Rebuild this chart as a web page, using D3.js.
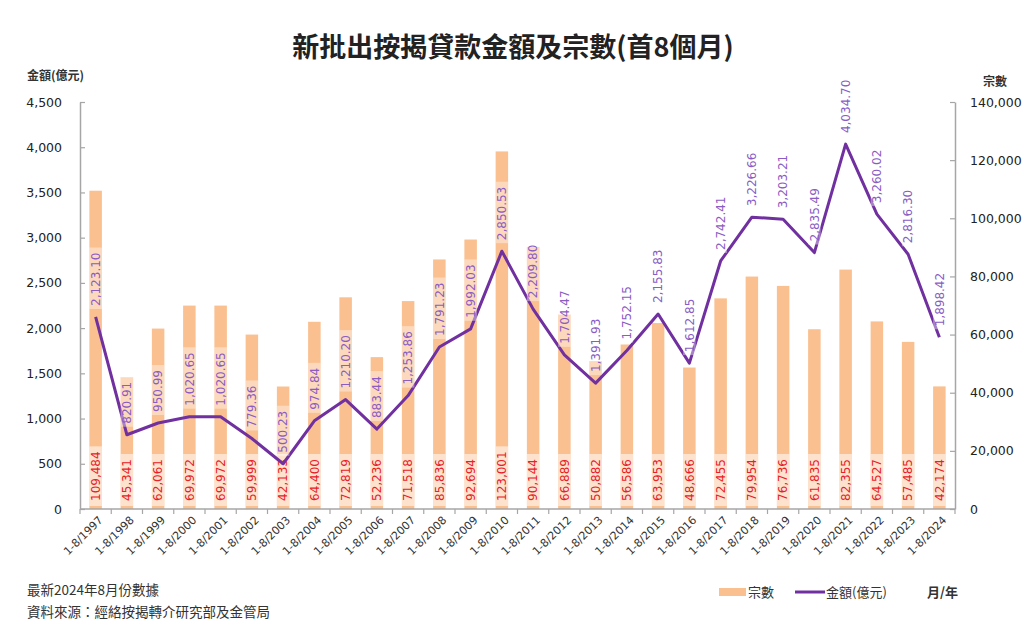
<!DOCTYPE html>
<html><head><meta charset="utf-8">
<script src="https://cdn.jsdelivr.net/npm/d3@7/dist/d3.min.js"></script>
<style>
html,body{margin:0;padding:0;background:#fff;}
svg{display:block;}
</style></head>
<body>
<svg id="c" width="1024" height="629"></svg>
<script>
const categories = ["1-8/1997","1-8/1998","1-8/1999","1-8/2000","1-8/2001","1-8/2002","1-8/2003","1-8/2004","1-8/2005","1-8/2006","1-8/2007","1-8/2008","1-8/2009","1-8/2010","1-8/2011","1-8/2012","1-8/2013","1-8/2014","1-8/2015","1-8/2016","1-8/2017","1-8/2018","1-8/2019","1-8/2020","1-8/2021","1-8/2022","1-8/2023","1-8/2024"];
const cases = [109484,45341,62061,69972,69972,59999,42133,64400,72819,52236,71518,85836,92694,123001,90144,66889,50882,56586,63953,48666,72455,79954,76736,61835,82355,64527,57485,42174];
const amounts = [2123.10,820.91,950.99,1020.65,1020.65,779.36,500.23,974.84,1210.20,883.44,1253.86,1791.23,1992.03,2850.53,2209.80,1704.47,1391.93,1752.15,2155.83,1612.85,2742.41,3226.66,3203.21,2835.49,4034.70,3260.02,2816.30,1898.42];
const leftTicks = [0,500,1000,1500,2000,2500,3000,3500,4000,4500];
const rightTicks = [0,20000,40000,60000,80000,100000,120000,140000];
const title = "新批出按揭貸款金額及宗數(首8個月)";

const svg = d3.select("#c");
const L = 80, R = 955, T = 102, B = 509;
const numFont = "'DejaVu Sans', Verdana, sans-serif";
const cjkFont = "'Noto Sans CJK TC','Noto Sans CJK SC',sans-serif";
const axisCol = "#a6a6a6";

const x = d3.scaleBand().domain(categories).range([L, R]).paddingInner(0.6).paddingOuter(0.3);
const yL = d3.scaleLinear().domain([0, 4500]).range([B, T]);
const yR = d3.scaleLinear().domain([0, 140000]).range([B, T]);

// title
svg.append("text").attr("x", 513).attr("y", 57).attr("text-anchor", "middle")
  .attr("font-family", cjkFont).attr("font-weight", "bold").attr("font-size", 27).attr("fill", "#222").text(title);
svg.append("text").attr("x", 27).attr("y", 80).attr("font-family", cjkFont).attr("font-weight", "bold")
  .attr("font-size", 12).attr("fill", "#333").text("金額(億元)");
svg.append("text").attr("x", 983).attr("y", 86).attr("font-family", cjkFont).attr("font-weight", "bold")
  .attr("font-size", 12).attr("fill", "#333").text("宗數");

// axes
const gl = svg.append("g").attr("transform", `translate(${L},0)`)
  .call(d3.axisLeft(yL).tickValues(leftTicks).tickSize(-5).tickSizeOuter(0).tickPadding(18).tickFormat(d3.format(",")));
const gr = svg.append("g").attr("transform", `translate(${R},0)`)
  .call(d3.axisRight(yR).tickValues(rightTicks).tickSize(-5).tickSizeOuter(0).tickPadding(15).tickFormat(d3.format(",")));
[gl, gr].forEach(g => {
  g.select(".domain").attr("stroke", axisCol).attr("stroke-width", 1.5);
  g.selectAll(".tick line").attr("stroke", axisCol).attr("stroke-width", 1.2);
  g.selectAll(".tick text").attr("font-family", numFont).attr("font-size", 12.5).attr("fill", "#222");
});

// bars
const bw = x.bandwidth();
svg.append("g").selectAll("rect").data(cases).join("rect")
  .attr("x", (d, i) => x(categories[i])).attr("width", bw)
  .attr("y", d => yR(d)).attr("height", d => B - yR(d))
  .attr("fill", "#fac090");

// x axis
const half = (x.step() - bw) / 2;
const xa = svg.append("g");
xa.append("line").attr("x1", L).attr("x2", R).attr("y1", B).attr("y2", B).attr("stroke", axisCol).attr("stroke-width", 1.5);
const bounds = categories.map(c => x(c) - half).concat([x(categories[categories.length - 1]) + bw + half]);
xa.selectAll("line.t").data(bounds).join("line").attr("class", "t")
  .attr("x1", d => d).attr("x2", d => d).attr("y1", B).attr("y2", B + 5).attr("stroke", axisCol).attr("stroke-width", 1.2);
xa.selectAll("text").data(categories).join("text")
  .attr("transform", d => `translate(${x(d) + bw / 2 + 5},${B + 9}) rotate(-45)`)
  .attr("text-anchor", "end").attr("dy", "0.35em")
  .attr("font-family", numFont).attr("font-size", 11).attr("fill", "#333").text(d => d);

// bar labels
const fmtInt = d3.format(",");
const bl = svg.append("g");
cases.forEach((v, i) => {
  const cx = x(categories[i]) + bw / 2;
  const g = bl.append("g").attr("transform", `translate(${cx},${B - 8}) rotate(-90)`);
  const t = g.append("text").attr("x", 0).attr("y", 0).attr("dy", "0.35em")
    .attr("font-family", numFont).attr("font-size", 12).attr("fill", "#e8202a").text(fmtInt(v));
  const bb = t.node().getBBox();
  g.insert("rect", "text").attr("x", -5).attr("y", -bw / 2).attr("width", bb.width + 10).attr("height", bw)
    .attr("fill", "#fff").attr("opacity", 0.55);
});

// line
const line = d3.line().x((d, i) => x(categories[i]) + bw / 2).y(d => yL(d));
svg.append("path").datum(amounts).attr("d", line).attr("fill", "none")
  .attr("stroke", "#7030a0").attr("stroke-width", 3).attr("stroke-linejoin", "round");

// line labels
const fmtDec = d3.format(",.2f");
const ll = svg.append("g");
amounts.forEach((v, i) => {
  const cx = x(categories[i]) + bw / 2;
  const g = ll.append("g").attr("transform", `translate(${cx},${yL(v) - 11}) rotate(-90)`);
  const t = g.append("text").attr("x", 0).attr("y", 0).attr("dy", "0.35em")
    .attr("font-family", numFont).attr("font-size", 12).attr("fill", "#8a5cc4").text(fmtDec(v));
  const bb = t.node().getBBox();
  g.insert("rect", "text").attr("x", -3).attr("y", -bw / 2).attr("width", bb.width + 8).attr("height", bw)
    .attr("fill", "#fff").attr("opacity", 0.4);
});

// footer
svg.append("text").attr("x", 27).attr("y", 595).attr("font-family", cjkFont).attr("font-size", 13.5).attr("fill", "#333").text("最新2024年8月份數據");
svg.append("text").attr("x", 27).attr("y", 617).attr("font-family", cjkFont).attr("font-size", 13.5).attr("fill", "#333").text("資料來源：經絡按揭轉介研究部及金管局");

// legend
const lg = svg.append("g");
lg.append("rect").attr("x", 719).attr("y", 588).attr("width", 27).attr("height", 8).attr("fill", "#fac090");
lg.append("text").attr("x", 748).attr("y", 597).attr("font-family", cjkFont).attr("font-size", 13).attr("fill", "#333").text("宗數");
lg.append("line").attr("x1", 795).attr("x2", 825).attr("y1", 592).attr("y2", 592).attr("stroke", "#7030a0").attr("stroke-width", 3);
lg.append("text").attr("x", 826).attr("y", 597).attr("font-family", cjkFont).attr("font-size", 13).attr("fill", "#333").text("金額(億元)");
lg.append("text").attr("x", 927).attr("y", 597).attr("font-family", cjkFont).attr("font-weight", "bold").attr("font-size", 13).attr("fill", "#333").text("月/年");
</script>
</body></html>
